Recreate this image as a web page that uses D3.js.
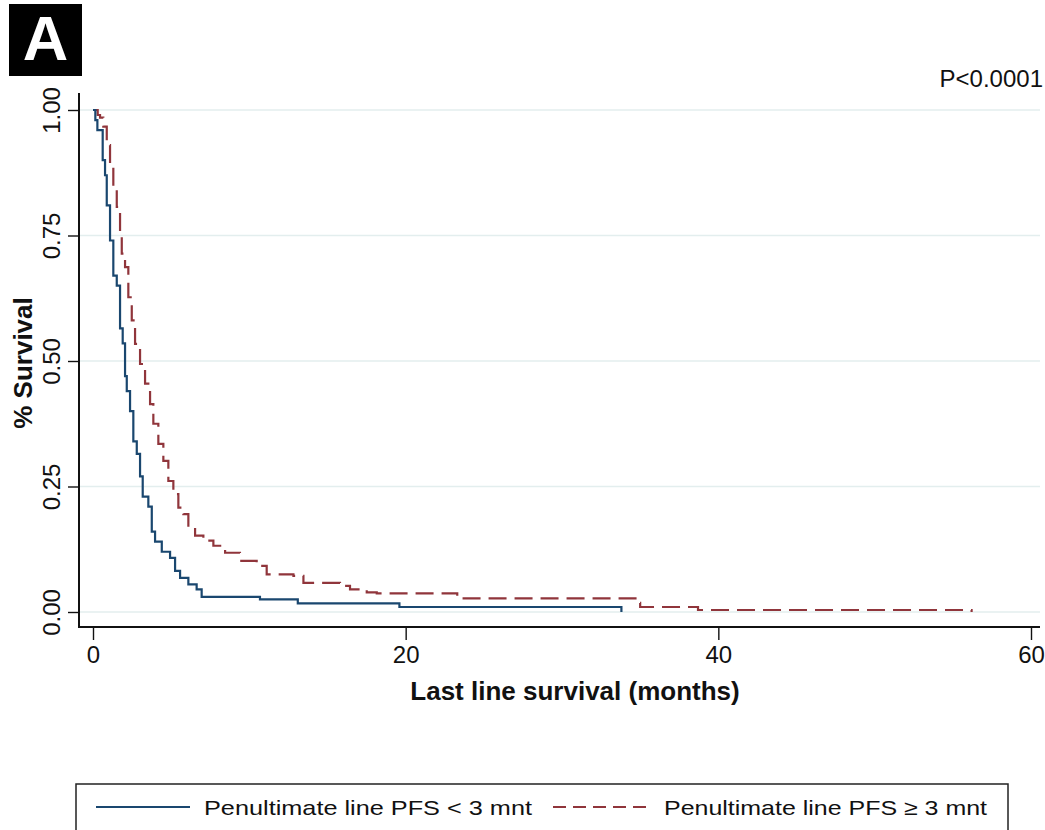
<!DOCTYPE html>
<html lang="en">
<head>
<meta charset="UTF-8">
<title>Last line survival</title>
<script src="https://d3js.org/d3.v7.min.js"></script>
<style>
  body {
    margin: 0;
    background: #fff;
    font-family: "Liberation Sans", Arial, sans-serif;
  }
  svg text { fill: #111; }
</style>
</head>
<body>
<div id="chart"></div>

<script>
// ------ data ------

const seriesNames = ["Penultimate line PFS < 3 mnt", "Penultimate line PFS \u2265 3 mnt"];

// PFS < 3 months (solid, blue)
const shortTime = [0, 0.15, 0.28, 0.62, 0.77, 0.88, 1.09, 1.30, 1.52, 1.73, 1.90, 2.05, 2.16, 2.37, 2.58,
                   2.80, 3.01, 3.18, 3.54, 3.76, 3.97, 4.40, 4.93, 5.25, 5.57, 6.10, 6.63, 6.95,
                   10.68, 13.1, 19.6, 33.8];
const shortSurv = [1, 0.98, 0.96, 0.90, 0.87, 0.81, 0.74, 0.67, 0.65, 0.565, 0.535, 0.47, 0.44, 0.40, 0.34,
                   0.315, 0.27, 0.23, 0.21, 0.16, 0.14, 0.12, 0.108, 0.082, 0.068, 0.055, 0.045, 0.030,
                   0.025, 0.017, 0.010, 0];

// PFS >= 3 months (dashed, maroon)
const longTime = [0, 0.30, 0.45, 0.66, 0.88, 1.09, 1.30, 1.52, 1.73, 1.84, 2.05, 2.26, 2.48, 2.69, 3.01,
                  3.33, 3.65, 3.86, 4.18, 4.50, 4.82, 5.14, 5.46, 5.78, 6.10, 6.53, 7.06, 7.70, 8.45,
                  9.40, 10.47, 11.11, 12.82, 13.46, 15.80, 16.44, 17.51, 18.15, 23.3, 34.7, 35.0,
                  38.7, 56.2];
const longSurv = [1, 0.99, 0.985, 0.967, 0.93, 0.887, 0.847, 0.807, 0.754, 0.714, 0.687, 0.627, 0.581,
                  0.534, 0.494, 0.455, 0.414, 0.375, 0.335, 0.301, 0.261, 0.235, 0.208, 0.195, 0.168,
                  0.152, 0.142, 0.132, 0.118, 0.102, 0.092, 0.075, 0.072, 0.058, 0.052, 0.045, 0.039,
                  0.037, 0.027, 0.018, 0.010, 0.004, 0];

const xTicks = [0, 20, 40, 60];
const yTicks = [0, 0.25, 0.5, 0.75, 1];

// ------ chart ------

const W = 1045, H = 830;
const blue = "#1a476f", red = "#90353b";

const svg = d3.select("#chart").append("svg")
    .attr("width", W)
    .attr("height", H);

const x = d3.scaleLinear().domain([0, 60]).range([93, 1031]);
const y = d3.scaleLinear().domain([0, 1]).range([612, 110]);

const axisX0 = 79, axisXEnd = 1040;   // y axis position / right end of x axis
const axisY0 = 627, axisYTop = 93;    // x axis position / top of y axis

// panel letter
svg.append("rect")
    .attr("x", 9).attr("y", 4)
    .attr("width", 73).attr("height", 72)
    .attr("fill", "#000");
svg.append("text")
    .attr("x", 45.5).attr("y", 60)
    .attr("text-anchor", "middle")
    .style("font-size", "63px")
    .style("font-weight", "bold")
    .style("fill", "#fff")
    .text("A");

// gridlines
svg.append("g")
  .selectAll("line")
  .data(yTicks)
  .join("line")
    .attr("x1", axisX0 + 1).attr("x2", axisXEnd)
    .attr("y1", d => y(d)).attr("y2", d => y(d))
    .attr("stroke", "#e3eeee")
    .attr("stroke-width", 1.5);

// y axis
const gy = svg.append("g")
    .attr("transform", `translate(${axisX0},0)`)
    .call(d3.axisLeft(y).tickValues(yTicks).tickFormat(d3.format(".2f")).tickSize(11).tickSizeOuter(0));
gy.select(".domain").remove();
gy.selectAll(".tick line").attr("stroke", "#111").attr("stroke-width", 1.4);
gy.selectAll(".tick text")
    .attr("transform", "rotate(-90)")
    .attr("x", 0).attr("y", -19).attr("dy", 0)
    .attr("text-anchor", "middle")
    .style("font-size", "24px")
    .style("font-family", "'Liberation Sans', Arial, sans-serif");

// x axis
const gx = svg.append("g")
    .attr("transform", `translate(0,${axisY0})`)
    .call(d3.axisBottom(x).tickValues(xTicks).tickFormat(d3.format("d")).tickSize(13).tickSizeOuter(0));
gx.select(".domain").remove();
gx.selectAll(".tick line").attr("stroke", "#111").attr("stroke-width", 1.4);
gx.selectAll(".tick text")
    .attr("y", 36).attr("dy", 0)
    .style("font-size", "24px")
    .style("font-family", "'Liberation Sans', Arial, sans-serif");

// axis lines
svg.append("line")
    .attr("x1", axisX0).attr("x2", axisX0)
    .attr("y1", axisYTop).attr("y2", axisY0 + 1)
    .attr("stroke", "#111").attr("stroke-width", 2);
svg.append("line")
    .attr("x1", axisX0 - 1).attr("x2", axisXEnd)
    .attr("y1", axisY0).attr("y2", axisY0)
    .attr("stroke", "#111").attr("stroke-width", 2);

// axis titles
svg.append("text")
    .attr("x", 575).attr("y", 700)
    .attr("text-anchor", "middle")
    .style("font-size", "26px")
    .style("font-weight", "bold")
    .text("Last line survival (months)");

svg.append("text")
    .attr("transform", "translate(32,363) rotate(-90)")
    .attr("text-anchor", "middle")
    .style("font-size", "26px")
    .style("font-weight", "bold")
    .text("% Survival");

svg.append("text")
    .attr("x", 1043).attr("y", 87)
    .attr("text-anchor", "end")
    .style("font-size", "24px")
    .text("P<0.0001");

// survival curves
const km = d3.line()
    .x(d => x(d[0]))
    .y(d => y(d[1]))
    .curve(d3.curveStepAfter);

svg.append("path")
    .datum(d3.zip(longTime, longSurv))
    .attr("d", km)
    .attr("fill", "none")
    .attr("stroke", red)
    .attr("stroke-width", 2.2)
    .attr("stroke-dasharray", "18,8");

svg.append("path")
    .datum(d3.zip(shortTime, shortSurv))
    .attr("d", km)
    .attr("fill", "none")
    .attr("stroke", blue)
    .attr("stroke-width", 2.2);

// legend
const legend = svg.append("g");
legend.append("rect")
    .attr("x", 76).attr("y", 784)
    .attr("width", 932).attr("height", 60)
    .attr("fill", "#fff")
    .attr("stroke", "#222")
    .attr("stroke-width", 1.5);

const legendItems = [
  {name: seriesNames[0], color: blue, dash: null, x0: 96, x1: 190, tx: 204, tw: 328},
  {name: seriesNames[1], color: red, dash: "13,7", x0: 553, x1: 647, tx: 664, tw: 323}
];

legend.selectAll("line.key")
  .data(legendItems)
  .join("line")
    .attr("class", "key")
    .attr("x1", d => d.x0).attr("x2", d => d.x1)
    .attr("y1", 807).attr("y2", 807)
    .attr("stroke", d => d.color)
    .attr("stroke-width", 2)
    .attr("stroke-dasharray", d => d.dash);

legend.selectAll("text.key")
  .data(legendItems)
  .join("text")
    .attr("class", "key")
    .attr("x", d => d.tx).attr("y", 815)
    .attr("textLength", d => d.tw)
    .attr("lengthAdjust", "spacingAndGlyphs")
    .style("font-size", "21px")
    .text(d => d.name);
</script>
</body>
</html>
